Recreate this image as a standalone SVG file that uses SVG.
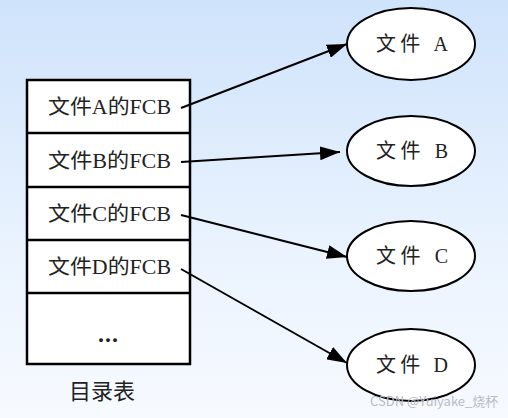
<svg xmlns="http://www.w3.org/2000/svg" width="508" height="418" viewBox="0 0 508 418">
<defs>
<linearGradient id="bg" x1="0" y1="0" x2="0" y2="1">
<stop offset="0" stop-color="#cfe3fb"/>
<stop offset="0.6" stop-color="#eaf3fe"/>
<stop offset="1" stop-color="#f7faff"/>
</linearGradient>
<marker id="arr" viewBox="0 0 20 14" refX="20" refY="7" markerWidth="20" markerHeight="14" markerUnits="userSpaceOnUse" orient="auto">
<polygon points="0,0 20,7 0,14" fill="#000"/>
</marker>
<style>
.cell{fill:#fff;stroke:#000;stroke-width:2.5}
.t{font-family:"Liberation Serif","Noto Sans CJK SC",serif;font-size:20px;fill:#222}
.node ellipse{fill:#fff;stroke:#000;stroke-width:2}
.edge{stroke:#000;stroke-width:2;fill:none;marker-end:url(#arr)}
</style>
</defs>
<rect width="508" height="418" fill="url(#bg)"/>
<g id="table">
<rect class="cell" x="27" y="80" width="163" height="284"/>
<line x1="27" y1="133" x2="190" y2="133" stroke="#000" stroke-width="2.5"/>
<line x1="27" y1="187" x2="190" y2="187" stroke="#000" stroke-width="2.5"/>
<line x1="27" y1="240" x2="190" y2="240" stroke="#000" stroke-width="2.5"/>
<line x1="27" y1="293" x2="190" y2="293" stroke="#000" stroke-width="2.5"/>
<text class="t" x="48" y="114" textLength="123" lengthAdjust="spacingAndGlyphs">文件A的FCB</text>
<text class="t" x="48" y="168" textLength="123" lengthAdjust="spacingAndGlyphs">文件B的FCB</text>
<text class="t" x="48" y="221" textLength="123" lengthAdjust="spacingAndGlyphs">文件C的FCB</text>
<text class="t" x="48" y="274" textLength="123" lengthAdjust="spacingAndGlyphs">文件D的FCB</text>
<text class="t" x="98" y="342" textLength="20" lengthAdjust="spacing" font-weight="bold" style="font-size:24px">...</text>
<text class="t" x="102" y="399" text-anchor="middle" style="font-size:22px">目录表</text>
</g>
<g id="nodeA" class="node"><ellipse cx="411" cy="44" rx="64" ry="36"/><text class="t" x="376" y="51" textLength="72" lengthAdjust="spacing">文件 A</text></g>
<g id="nodeB" class="node"><ellipse cx="411" cy="151" rx="64" ry="35"/><text class="t" x="376" y="158" textLength="72" lengthAdjust="spacing">文件 B</text></g>
<g id="nodeC" class="node"><ellipse cx="411" cy="256" rx="64" ry="35"/><text class="t" x="376" y="263" textLength="72" lengthAdjust="spacing">文件 C</text></g>
<g id="nodeD" class="node"><ellipse cx="411" cy="365" rx="64" ry="36"/><text class="t" x="376" y="372" textLength="72" lengthAdjust="spacing">文件 D</text></g>
<g id="connectors">
<line class="edge" x1="181" y1="108" x2="347" y2="44"/>
<line class="edge" x1="181" y1="162" x2="340" y2="152"/>
<line class="edge" x1="181" y1="215" x2="347" y2="257"/>
<line class="edge" x1="181" y1="269" x2="347" y2="363"/>
</g>
<text x="370" y="406" font-family="'Noto Sans CJK SC',sans-serif" font-size="13" fill="#b8bcc4">CSDN @Yuiyake_烧杯</text>
</svg>
